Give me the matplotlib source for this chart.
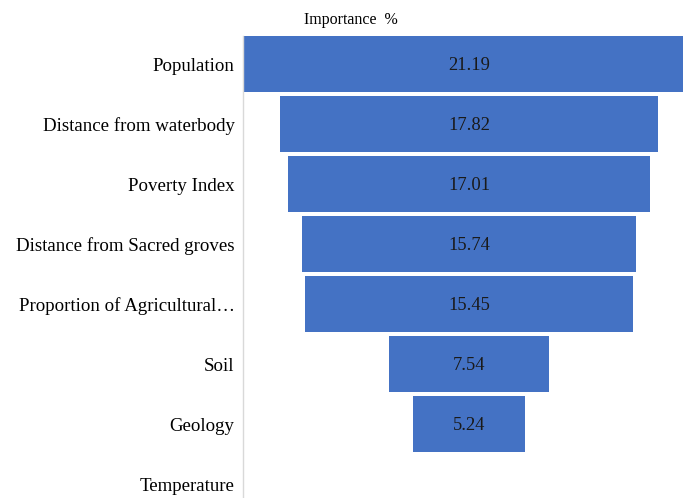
import matplotlib
matplotlib.use("Agg")
import matplotlib.pyplot as plt

categories = ["Population", "Distance from waterbody", "Poverty Index",
              "Distance from Sacred groves", "Proportion of Agricultural\u2026",
              "Soil", "Geology", "Temperature"]
values = [21.19, 17.82, 17.01, 15.74, 15.45, 7.54, 5.24, 0.0]
value_labels = ["21.19", "17.82", "17.01", "15.74", "15.45", "7.54", "5.24", ""]

plt.rcParams['font.family'] = ['Liberation Serif', 'DejaVu Serif']

fig = plt.figure(figsize=(6.83, 4.98), dpi=100)
W, H = 683, 498
ax = fig.add_axes([243 / W, 0, 440 / W, (498 - 36) / H])

ypos = list(range(len(categories)))
lefts = [-v / 2 for v in values]
bars = ax.barh(ypos, values, left=lefts, height=0.933, color="#4472C4")
for y, v, lab in zip(ypos, values, value_labels):
    if lab:
        ax.text(0, y + 0.03, lab, ha="center", va="center", fontsize=13.3, color="#1a1a1a")

ax.set_xlim((243 - 469) / 21.25, (683 - 469) / 21.25)
ax.set_ylim(7.233, -0.467)
ax.set_yticks(ypos)
ax.set_yticklabels(categories, fontsize=13.6)
ax.tick_params(axis="y", length=0, pad=6)
ax.set_xticks([])
for s in ["top", "right", "bottom"]:
    ax.spines[s].set_visible(False)
ax.spines["left"].set_color("#d9d9d9")
ax.spines["left"].set_linewidth(1.0)

fig.text(350.5 / W, 1 - 20.5 / H, "Importance  %", ha="center", va="center", fontsize=11.5)

fig.savefig("out.png", dpi=100)
